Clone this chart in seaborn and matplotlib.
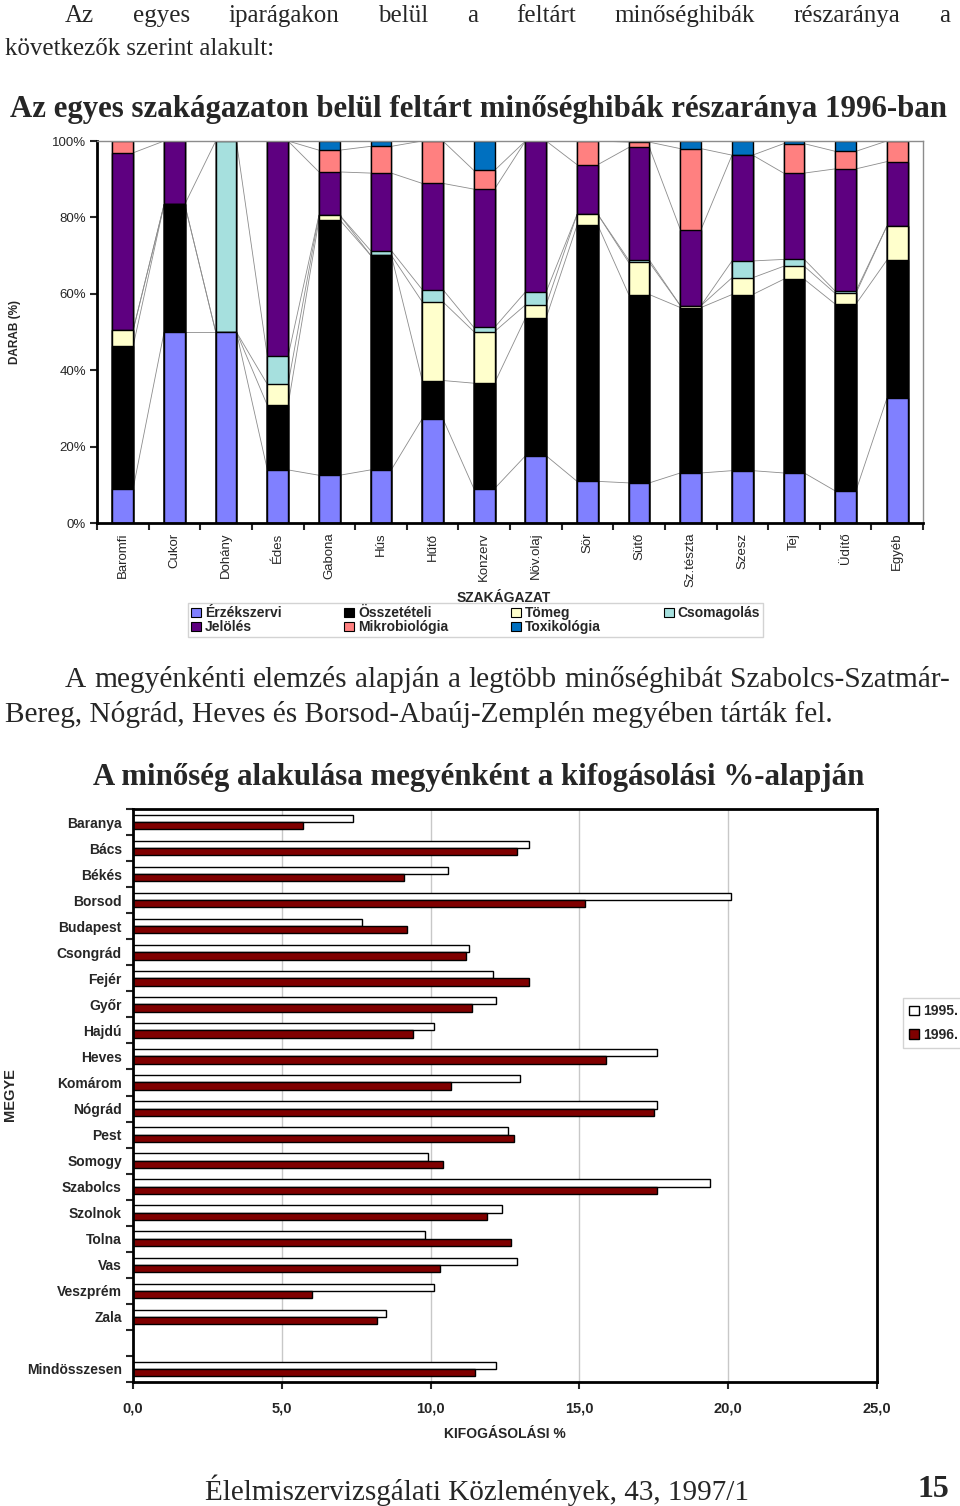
import matplotlib
matplotlib.use("Agg")
import numpy as np
import pandas as pd
import seaborn as sns
import matplotlib.pyplot as plt
from matplotlib.patches import Patch
from matplotlib.ticker import FixedLocator

# felső ábra: hibatípusok részaránya szakágazatonként (1996, %)
branches = ["Baromfi", "Cukor", "Dohány", "Édes", "Gabona", "Hús", "Hűtő", "Konzerv",
            "Növ.olaj", "Sör", "Sütő", "Sz.tészta", "Szesz", "Tej", "Üdítő", "Egyéb"]
erzekszervi = [9.0, 50.0, 50.0, 13.9, 12.5, 13.9, 27.3, 9.0, 17.6, 10.9, 10.5, 13.1, 13.7, 13.1, 8.4, 32.6]
osszeteteli = [37.3, 33.4, 0, 16.9, 66.9, 56.2, 10.0, 27.6, 36.1, 67.1, 49.3, 43.3, 46.1, 50.7, 48.9, 36.2]
tomeg = [4.2, 0, 0, 5.5, 1.2, 0, 20.6, 13.5, 3.4, 2.8, 8.4, 0.5, 4.4, 3.4, 2.8, 8.9]
csomagolas = [0, 0, 50.0, 7.3, 0, 1.2, 3.2, 1.1, 3.4, 0, 0.6, 0, 4.4, 1.8, 0.6, 0]
jeloles = [46.4, 16.6, 0, 56.4, 11.3, 20.3, 27.8, 36.2, 39.5, 13.0, 29.5, 19.9, 27.7, 22.6, 32.0, 16.9]
mikrobiologia = [3.1, 0, 0, 0, 5.7, 7.0, 11.1, 4.9, 0, 6.2, 1.4, 21.2, 0, 7.7, 4.6, 5.4]
toxikologia = [0, 0, 0, 0, 2.4, 1.4, 0, 7.7, 0, 0, 0.3, 2.0, 3.7, 0.7, 2.7, 0]
defect_names = ["Érzékszervi", "Összetételi", "Tömeg", "Csomagolás",
                "Jelölés", "Mikrobiológia", "Toxikológia"]
pct_ticks = [0, 20, 40, 60, 80, 100]

# alsó ábra: kifogásolási % megyénként
counties = ["Baranya", "Bács", "Békés", "Borsod", "Budapest", "Csongrád", "Fejér", "Győr",
            "Hajdú", "Heves", "Komárom", "Nógrád", "Pest", "Somogy", "Szabolcs", "Szolnok",
            "Tolna", "Vas", "Veszprém", "Zala", "Mindösszesen"]
kif_1995 = [7.4, 13.3, 10.6, 20.1, 7.7, 11.3, 12.1, 12.2, 10.1, 17.6, 13.0, 17.6, 12.6,
            9.9, 19.4, 12.4, 9.8, 12.9, 10.1, 8.5, 12.2]
kif_1996 = [5.7, 12.9, 9.1, 15.2, 9.2, 11.2, 13.3, 11.4, 9.4, 15.9, 10.7, 17.5, 12.8,
            10.4, 17.6, 11.9, 12.7, 10.3, 6.0, 8.2, 11.5]
years = ["1995.", "1996."]
x_ticks = [0, 5, 10, 15, 20, 25]

W, H = 960, 1506
sns.set_style("white")
plt.rcParams["font.family"] = ["Liberation Sans", "DejaVu Sans"]

fig = plt.figure(figsize=(W / 100, H / 100), dpi=100)
renderer = fig.canvas.get_renderer()
SERIF = ["Liberation Serif", "DejaVu Serif"]


def measure(s, size, **kw):
    t = fig.text(0, 0, s, fontsize=size, **kw)
    w = t.get_window_extent(renderer).width
    t.remove()
    return w


def fit_size(s, width, **kw):
    return 20 * width / measure(s, 20, **kw)


def put(s, x, y, size, **kw):
    fig.text(x / W, 1 - y / H, s, fontsize=size, va="baseline", ha="left", **kw)


def put_justified(s, x0, x1, y, size, **kw):
    words = s.split()
    widths = [measure(w, size, **kw) for w in words]
    gap = (x1 - x0 - sum(widths)) / (len(words) - 1)
    x = x0
    for w, wd in zip(words, widths):
        put(w, x, y, size, **kw)
        x += wd + gap


# szöveg a lap tetején
fs1 = 18
put_justified("Az egyes iparágakon belül a feltárt minőséghibák részaránya a",
              65, 950, 22, fs1, family=SERIF)
put("következők szerint alakult:", 5, 55, fs1, family=SERIF)

t1 = "Az egyes szakágazaton belül feltárt minőséghibák részaránya 1996-ban"
put(t1, 10, 117, fit_size(t1, 935, family=SERIF, weight="bold"), family=SERIF, weight="bold")

# felső ábra
colors = ["#8080FF", "#000000", "#FFFFCC", "#A6E0DE", "#5E0080", "#FF8080", "#0070C0"]
layers = np.array([erzekszervi, osszeteteli, tomeg, csomagolas, jeloles, mikrobiologia, toxikologia])
cum = np.cumsum(layers, axis=0)

ax1 = fig.add_axes([97 / W, 1 - 523 / H, 826 / W, 382 / H])
for k in range(len(defect_names) - 1, -1, -1):
    sns.barplot(x=branches, y=cum[k], color=colors[k], width=0.4, saturation=1,
                edgecolor="black", linewidth=1, ax=ax1)
for k in range(len(defect_names)):
    for i in range(len(branches) - 1):
        ax1.plot([i + 0.2, i + 0.8], [cum[k, i], cum[k, i + 1]], color="#8c8c8c", lw=0.6, zorder=0.5)

ax1.set_xlim(-0.5, len(branches) - 0.5)
ax1.set_ylim(0, 100)
ax1.set_yticks(pct_ticks)
ax1.set_yticklabels([f"{v}%" for v in pct_ticks], fontsize=9.5)
ax1.set_xticks(range(len(branches)))
ax1.set_xticklabels(branches, rotation=90, fontsize=9.5)
ax1.xaxis.set_minor_locator(FixedLocator(np.arange(-0.5, len(branches), 1.0)))
ax1.tick_params(axis="x", which="major", length=0, pad=7)
ax1.tick_params(axis="x", which="minor", length=5, width=1.5, direction="out", bottom=True)
ax1.tick_params(axis="y", length=5, width=1.5, direction="out", left=True, pad=3)
ax1.set_xlabel("")
ax1.set_ylabel("")
for side in ["left", "bottom"]:
    ax1.spines[side].set_color("black")
    ax1.spines[side].set_linewidth(2)
for side in ["top", "right"]:
    ax1.spines[side].set_color("#8c8c8c")
    ax1.spines[side].set_linewidth(1)

fig.text(15 / W, 1 - 332 / H, "DARAB (%)", rotation=90, ha="center", va="center",
         fontsize=8.5, weight="bold")
fig.text(504 / W, 1 - 598 / H, "SZAKÁGAZAT", ha="center", va="center", fontsize=10, weight="bold")

leg_order = [0, 4, 1, 5, 2, 6, 3]
handles1 = [Patch(facecolor=colors[k], edgecolor="black", linewidth=0.8) for k in leg_order]
leg1 = fig.legend(handles1, [defect_names[k] for k in leg_order], ncol=4,
                  loc="lower left", mode="expand",
                  bbox_to_anchor=(188 / W, 1 - 637 / H, 575 / W, 31 / H),
                  prop={"size": 10, "weight": "bold"}, frameon=True, fancybox=False,
                  edgecolor="#c8c8c8", handlelength=0.7, handleheight=0.7,
                  handletextpad=0.3, labelspacing=0.0, borderpad=0.2, borderaxespad=0)
leg1.get_frame().set_linewidth(1)

# szöveg a két ábra között
p2 = "Bereg, Nógrád, Heves és Borsod-Abaúj-Zemplén megyében tárták fel."
fs2 = fit_size(p2, 831, family=SERIF)
put_justified("A megyénkénti elemzés alapján a legtöbb minőséghibát Szabolcs-Szatmár-",
              65, 950, 687, fs2, family=SERIF)
put(p2, 5, 722, fs2, family=SERIF)

t2 = "A minőség alakulása megyénként a kifogásolási %-alapján"
put(t2, 93, 785, fit_size(t2, 769, family=SERIF, weight="bold"), family=SERIF, weight="bold")

# alsó ábra
order = counties[:-1] + [" "] + counties[-1:]
df = pd.DataFrame({
    "megye": counties * 2,
    "ev": [years[0]] * len(counties) + [years[1]] * len(counties),
    "kif": kif_1995 + kif_1996,
})
pal = {years[0]: "white", years[1]: "#800000"}
ax2 = fig.add_axes([133 / W, 1 - 1382 / H, 744 / W, 573 / H])
ax2.set_axisbelow(True)
ax2.xaxis.grid(True, color="#c8c8c8", lw=1)
sns.barplot(data=df, y="megye", x="kif", hue="ev", order=order, hue_order=years,
            palette=pal, orient="h", width=0.56, saturation=1, edgecolor="black",
            linewidth=1, legend=False, ax=ax2)
ax2.set_xlim(0, 25)
ax2.set_ylim(len(order) - 0.5, -0.5)
ax2.set_xticks(x_ticks)
ax2.set_xticklabels([f"{v:.1f}".replace(".", ",") for v in x_ticks], fontsize=10.5, weight="bold")
ax2.set_yticks(range(len(order)))
ax2.set_yticklabels(order, fontsize=10, weight="bold")
ax2.yaxis.set_minor_locator(FixedLocator(np.arange(-0.5, len(order), 1.0)))
ax2.tick_params(axis="y", which="major", length=0, pad=8)
ax2.tick_params(axis="y", which="minor", length=5, width=1.5, direction="out", left=True)
ax2.tick_params(axis="x", length=5, width=1.5, direction="out", bottom=True, pad=9)
ax2.set_xlabel("")
ax2.set_ylabel("")
for side in ["left", "bottom", "top", "right"]:
    ax2.spines[side].set_color("black")
    ax2.spines[side].set_linewidth(2)

fig.text(10 / W, 1 - 1095 / H, "MEGYE", rotation=90, ha="center", va="center",
         fontsize=10.5, weight="bold")
fig.text(505 / W, 1 - 1434 / H, "KIFOGÁSOLÁSI %", ha="center", va="center",
         fontsize=10, weight="bold")

handles2 = [Patch(facecolor=pal[y], edgecolor="black", linewidth=1) for y in years]
leg2 = fig.legend(handles2, years, loc="upper left",
                  bbox_to_anchor=(903 / W, 1 - 998 / H),
                  prop={"size": 10, "weight": "bold"}, frameon=True, fancybox=False,
                  edgecolor="#c8c8c8", handlelength=0.7, handleheight=0.7,
                  handletextpad=0.3, labelspacing=0.7, borderpad=0.45, borderaxespad=0)

# lábléc
f1 = "Élelmiszervizsgálati Közlemények, 43, 1997/1"
put(f1, 205, 1500, fit_size(f1, 545, family=SERIF), family=SERIF)
put("15", 918, 1497, fit_size("15", 32, family=SERIF, weight="bold"), family=SERIF, weight="bold")

fig.savefig("out.png", dpi=100)
